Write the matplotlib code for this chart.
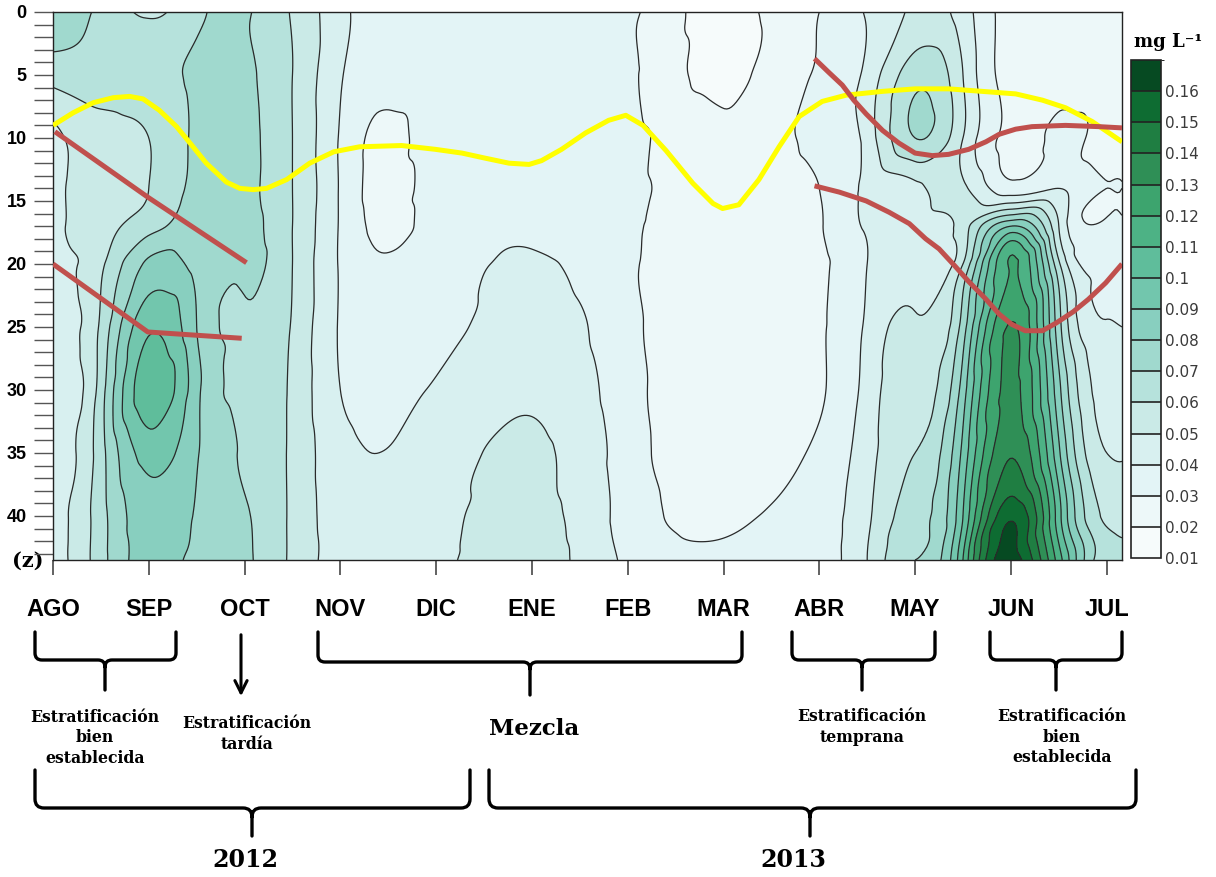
import numpy as np
import matplotlib
matplotlib.use("Agg")
import matplotlib.pyplot as plt
import matplotlib.tri as mtri
from matplotlib.colors import ListedColormap, BoundaryNorm
from matplotlib.cm import ScalarMappable
from matplotlib.path import Path
from matplotlib.patches import PathPatch, FancyArrowPatch

# ---------------------------------------------------------------
# data (mg/L), one profile per column
# column position is in months counted from AGO (2012)
# ---------------------------------------------------------------
depth_m = [0, 5, 10, 14, 17, 20, 25, 30, 35, 40, 43.5]
col_pos = [0, 0.5, 1, 1.5, 2, 2.5, 3, 3.4, 4, 5, 6, 7, 7.5, 8, 8.5, 9, 9.5, 10, 10.5, 11, 11.16]

ago = [0.078, 0.064, 0.047, 0.046, 0.046, 0.046, 0.046, 0.046, 0.046, 0.046, 0.045]
ago_sep = [0.068, 0.066, 0.056, 0.056, 0.057, 0.058, 0.062, 0.065, 0.066, 0.066, 0.066]
sep = [0.058, 0.066, 0.060, 0.060, 0.066, 0.082, 0.098, 0.107, 0.094, 0.086, 0.084]
sep_oct = [0.068, 0.072, 0.072, 0.073, 0.074, 0.076, 0.080, 0.083, 0.081, 0.079, 0.078]
oct_ = [0.071, 0.072, 0.073, 0.073, 0.073, 0.072, 0.069, 0.068, 0.069, 0.071, 0.072]
oct_nov = [0.059, 0.060, 0.060, 0.060, 0.060, 0.060, 0.059, 0.058, 0.058, 0.058, 0.058]
nov = [0.043, 0.041, 0.039, 0.039, 0.039, 0.039, 0.039, 0.040, 0.043, 0.045, 0.046]
nov_b = [0.035, 0.033, 0.028, 0.027, 0.028, 0.031, 0.034, 0.037, 0.040, 0.043, 0.045]
dic = [0.036, 0.035, 0.034, 0.034, 0.034, 0.035, 0.037, 0.041, 0.044, 0.046, 0.047]
ene = [0.036, 0.035, 0.031, 0.034, 0.038, 0.041, 0.044, 0.048, 0.052, 0.054, 0.055]
feb = [0.032, 0.032, 0.032, 0.032, 0.032, 0.032, 0.033, 0.034, 0.035, 0.036, 0.038]
mar = [0.014, 0.017, 0.021, 0.022, 0.022, 0.022, 0.023, 0.024, 0.025, 0.028, 0.033]
mar_abr = [0.024, 0.024, 0.024, 0.024, 0.024, 0.024, 0.025, 0.026, 0.027, 0.031, 0.034]
abr = [0.030, 0.031, 0.033, 0.030, 0.029, 0.028, 0.029, 0.029, 0.032, 0.036, 0.037]
abr_may = [0.041, 0.043, 0.044, 0.042, 0.041, 0.040, 0.042, 0.044, 0.046, 0.048, 0.050]
may = [0.052, 0.066, 0.070, 0.047, 0.045, 0.047, 0.052, 0.056, 0.060, 0.066, 0.070]
may_jun = [0.045, 0.050, 0.050, 0.052, 0.055, 0.060, 0.075, 0.085, 0.093, 0.100, 0.110]
jun = [0.025, 0.026, 0.027, 0.034, 0.090, 0.121, 0.131, 0.133, 0.139, 0.158, 0.166]
jun_jul = [0.024, 0.027, 0.032, 0.040, 0.050, 0.062, 0.074, 0.083, 0.092, 0.104, 0.115]
jul = [0.025, 0.026, 0.027, 0.030, 0.033, 0.037, 0.041, 0.045, 0.050, 0.058, 0.062]
jul_end = [0.027, 0.028, 0.028, 0.030, 0.033, 0.036, 0.040, 0.043, 0.049, 0.056, 0.060]

months = ["AGO", "SEP", "OCT", "NOV", "DIC", "ENE", "FEB", "MAR", "ABR", "MAY", "JUN", "JUL"]
cbar_levels = [0.01, 0.02, 0.03, 0.04, 0.05, 0.06, 0.07, 0.08, 0.09,
               0.10, 0.11, 0.12, 0.13, 0.14, 0.15, 0.16, 0.17]

# thermocline (yellow) and stratification limits (red): (month, depth)
yellow_x = [0, 0.21, 0.42, 0.63, 0.8, 0.94, 1.11, 1.29, 1.43, 1.6, 1.81, 1.95, 2.09, 2.23,
            2.44, 2.68, 2.93, 3.2, 3.64, 3.99, 4.27, 4.51, 4.76, 4.97, 5.1, 5.31, 5.56,
            5.8, 5.98, 6.16, 6.4, 6.68, 6.89, 6.99, 7.16, 7.37, 7.58, 7.79, 8.03, 8.28,
            8.66, 9.0, 9.35, 9.7, 10.05, 10.33, 10.57, 10.85, 11.16]
yellow_z = [9.0, 8.0, 7.2, 6.8, 6.7, 6.9, 7.8, 9.1, 10.4, 12.0, 13.5, 14.0, 14.1, 14.0,
            13.3, 12.0, 11.1, 10.7, 10.6, 10.9, 11.2, 11.6, 12.0, 12.1, 11.8, 10.9, 9.6,
            8.6, 8.2, 9.0, 11.0, 13.6, 15.2, 15.6, 15.3, 13.3, 10.7, 8.3, 7.1, 6.6,
            6.3, 6.1, 6.1, 6.3, 6.5, 7.0, 7.6, 8.7, 10.3]
red1_x = [0.02, 0.99, 2.02]
red1_z = [9.5, 14.7, 19.9]
red2_x = [0, 0.99, 1.97]
red2_z = [20.0, 25.4, 25.9]
red3_x = [7.95, 8.1, 8.24, 8.36, 8.49, 8.66, 8.83, 9.0, 9.18, 9.35, 9.56, 9.74, 9.88,
          10.05, 10.22, 10.57, 10.92, 11.16]
red3_z = [3.7, 4.8, 5.8, 7.0, 8.1, 9.4, 10.4, 11.2, 11.4, 11.3, 10.9, 10.3, 9.7,
          9.3, 9.1, 9.0, 9.1, 9.2]
red4_x = [7.95, 8.21, 8.49, 8.73, 8.94, 9.11, 9.25, 9.42, 9.56, 9.74, 9.88, 10.01, 10.15,
          10.33, 10.47, 10.65, 10.81, 10.99, 11.16]
red4_z = [13.8, 14.3, 15.0, 15.9, 16.8, 18.0, 18.8, 20.2, 21.4, 22.8, 24.0, 24.8, 25.3,
          25.3, 24.7, 23.8, 22.8, 21.5, 20.0]

band_colors = ["#f6fbfb", "#edf8f9", "#e3f4f6", "#d8f0f0", "#caeae7", "#b6e2dc",
               "#a0d9ce", "#88cfbf", "#72c6ad", "#5fbd9b", "#4db285", "#3da46e",
               "#2f8f56", "#1f7e42", "#0e6c32", "#064a22"]

# ---------------------------------------------------------------
profiles = np.array([ago, ago_sep, sep, sep_oct, oct_, oct_nov, nov, nov_b, dic, ene, feb,
                     mar, mar_abr, abr, abr_may, may, may_jun, jun, jun_jul, jul, jul_end]).T
X, Z = np.meshgrid(col_pos, depth_m)
nr, nc = X.shape
tris = []
for i in range(nr - 1):
    for j in range(nc - 1):
        a = i * nc + j
        tris.append([a, a + 1, a + nc])
        tris.append([a + 1, a + nc + 1, a + nc])
zscale = 5.0
tri = mtri.Triangulation(X.ravel(), Z.ravel() / zscale, np.array(tris))
interp = mtri.CubicTriInterpolator(tri, profiles.ravel(), kind="min_E")
xf = np.linspace(col_pos[0], col_pos[-1], 450)
zf = np.linspace(depth_m[0], depth_m[-1], 350)
XF, ZF = np.meshgrid(xf, zf)
CF = np.asarray(interp(XF, ZF / zscale))

cmap = ListedColormap(band_colors)
cmap.set_under(band_colors[0])
cmap.set_over(band_colors[-1])
norm = BoundaryNorm(cbar_levels, cmap.N)

fig = plt.figure(figsize=(12.16, 8.77), dpi=100)

# overlay in pixel units for the brackets and labels under the section
ov = fig.add_axes([0, 0, 1, 1], zorder=0)
ov.set_xlim(0, 1216)
ov.set_ylim(877, 0)
ov.axis("off")

ax = fig.add_axes([53 / 1216, 1 - 560 / 877, 1069 / 1216, 548 / 877], zorder=2)
ax.contourf(XF, ZF, CF, levels=cbar_levels, cmap=cmap, norm=norm, extend="both")
ax.contour(XF, ZF, CF, levels=cbar_levels, colors="#2a2a2a", linewidths=0.9)

ax.plot(yellow_x, yellow_z, color="#ffff00", lw=3.6, solid_capstyle="butt",
        solid_joinstyle="round", zorder=5)
for rx, rz in [(red1_x, red1_z), (red2_x, red2_z), (red3_x, red3_z), (red4_x, red4_z)]:
    ax.plot(rx, rz, color="#c0504d", lw=3.6, solid_capstyle="butt",
            solid_joinstyle="round", zorder=6)

ax.set_xlim(col_pos[0], col_pos[-1])
ax.set_ylim(depth_m[-1], 0)
ax.set_xticks(range(len(months)))
ax.set_xticklabels(months, fontsize=17, fontweight="bold", family="Liberation Sans")
ax.set_yticks([0, 5, 10, 15, 20, 25, 30, 35, 40])
ax.set_yticks(range(0, 44), minor=True)
for lab in ax.get_yticklabels():
    lab.set_fontweight("bold")
    lab.set_fontsize(13)
    lab.set_family("Liberation Sans")
ax.tick_params(axis="x", direction="out", length=11, width=1.3, color="#555555", pad=16)
ax.tick_params(axis="y", which="both", direction="out", length=14, width=1.0,
               color="#555555", pad=5)
for sp in ax.spines.values():
    sp.set_linewidth(1.0)
    sp.set_color("#222222")

# colour bar
cax = fig.add_axes([1131 / 1216, 1 - 558 / 877, 30 / 1216, 498 / 877], zorder=2)
cb = fig.colorbar(ScalarMappable(norm=norm, cmap=cmap), cax=cax, boundaries=cbar_levels,
                  ticks=cbar_levels[:-1], drawedges=True)
cb.dividers.set_color("#222222")
cb.dividers.set_linewidth(1.2)
cb.outline.set_edgecolor("#222222")
cb.outline.set_linewidth(1.2)
cb.ax.set_yticklabels([f"{v:g}" for v in cbar_levels[:-1]])
cb.ax.tick_params(length=0, pad=3, labelsize=11, labelcolor="#3a3a3a")
fig.text(1168 / 1216, 1 - 42 / 877, "mg L\u207b\u00b9", ha="center", va="center",
         fontsize=13, fontweight="bold", family=["DejaVu Serif"])

serif = ["DejaVu Serif"]
ov.text(28, 561, "(z)", ha="center", va="center", fontsize=15, fontweight="bold", family=serif)


def brace(xl, xr, xc, ytop, yh, ytip, r=7):
    verts = [(xl, ytop), (xl, yh - r), (xl, yh), (xl + r, yh), (xc - r, yh), (xc, yh),
             (xc, yh + r), (xc, ytip), (xc, yh + r), (xc, yh), (xc + r, yh), (xr - r, yh),
             (xr, yh), (xr, yh - r), (xr, ytop)]
    codes = [Path.MOVETO, Path.LINETO, Path.CURVE3, Path.CURVE3, Path.LINETO, Path.CURVE3,
             Path.CURVE3, Path.LINETO, Path.MOVETO, Path.CURVE3, Path.CURVE3, Path.LINETO,
             Path.CURVE3, Path.CURVE3, Path.LINETO]
    ov.add_patch(PathPatch(Path(verts, codes), fill=False, lw=2.4, ec="black",
                           capstyle="round", joinstyle="round"))


brace(35, 176, 105, 632, 660, 690)
brace(318, 742, 530, 632, 662, 695)
brace(792, 935, 862, 632, 660, 690)
brace(990, 1122, 1056, 632, 660, 690)
brace(35, 470, 252, 770, 808, 836, r=9)
brace(489, 1136, 810, 770, 808, 836, r=9)
ov.add_patch(FancyArrowPatch((241, 632), (241, 699), arrowstyle="->", mutation_scale=22,
                             lw=2.2, color="black"))

tkw = dict(ha="center", va="center", fontweight="bold", family=serif, linespacing=1.3)
ov.text(95, 738, "Estratificación\nbien\nestablecida", fontsize=11.3, **tkw)
ov.text(247, 734, "Estratificación\ntardía", fontsize=11.3, **tkw)
ov.text(534, 729, "Mezcla", fontsize=16.5, **tkw)
ov.text(862, 727, "Estratificación\ntemprana", fontsize=11.3, **tkw)
ov.text(1062, 737, "Estratificación\nbien\nestablecida", fontsize=11.3, **tkw)
ov.text(245, 860, "2012", fontsize=17, **tkw)
ov.text(793, 860, "2013", fontsize=17, **tkw)

fig.savefig("out.png", dpi=100)
